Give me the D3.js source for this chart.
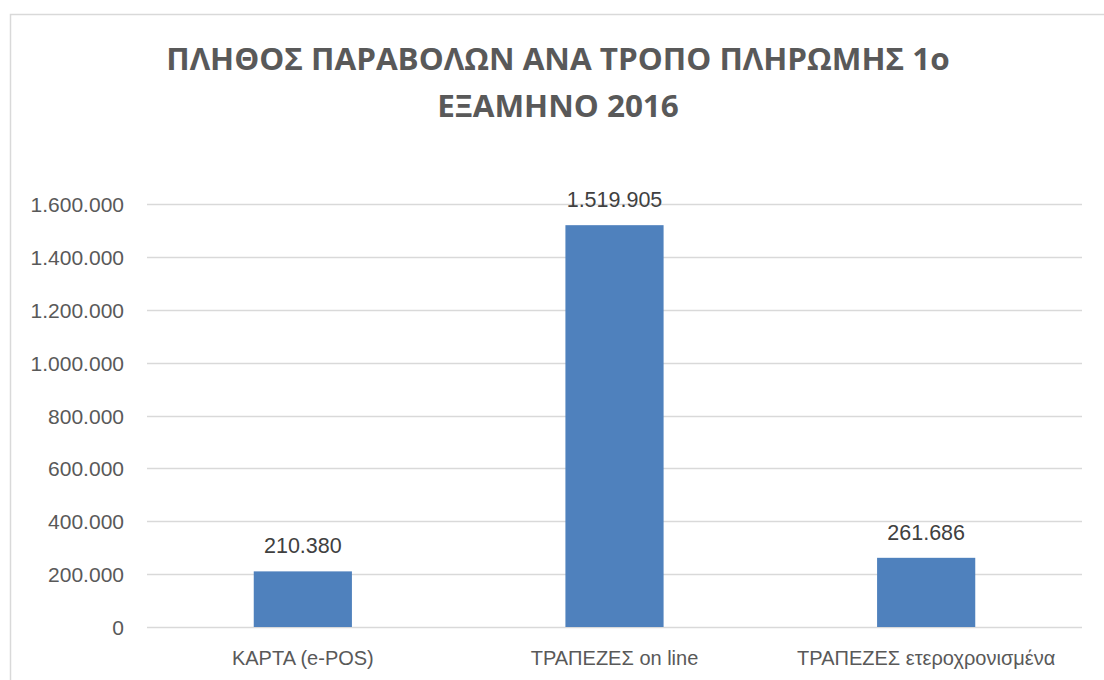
<!DOCTYPE html>
<html><head><meta charset="utf-8">
<script src="https://cdn.jsdelivr.net/npm/d3@7"></script>
<style>body{margin:0;background:#fff}svg{display:block}</style>
</head><body>
<svg id="c" width="1104" height="680"></svg>
<script>
const categories = ["ΚΑΡΤΑ (e-POS)", "ΤΡΑΠΕΖΕΣ on line", "ΤΡΑΠΕΖΕΣ ετεροχρονισμένα"];
const values = [210380, 1519905, 261686];
const valueLabels = ["210.380", "1.519.905", "261.686"];
const tickValues = [0, 200000, 400000, 600000, 800000, 1000000, 1200000, 1400000, 1600000];
const tickLabels = ["0", "200.000", "400.000", "600.000", "800.000", "1.000.000", "1.200.000", "1.400.000", "1.600.000"];
const titleLines = ["ΠΛΗΘΟΣ ΠΑΡΑΒΟΛΩΝ ΑΝΑ ΤΡΟΠΟ ΠΛΗΡΩΜΗΣ 1ο", "ΕΞΑΜΗΝΟ 2016"];

const svg = d3.select("#c");
const font = "'Liberation Sans', Arial, sans-serif";
const grey = "#595959";

svg.append("rect").attr("x",10.5).attr("y",14.5).attr("width",1200).attr("height",800)
  .attr("fill","none").attr("stroke","#d9d9d9").attr("stroke-width",1.5);

const x = d3.scaleBand().domain(categories).range([147,1082]).paddingInner(0.685).paddingOuter(0.3425);
const y = d3.scaleLinear().domain([0,1600000]).range([627,204]);

const grid = svg.append("g");
grid.selectAll("line").data(tickValues).join("line")
  .attr("x1",147).attr("x2",1082)
  .attr("y1",d=>Math.round(y(d))+0.5).attr("y2",d=>Math.round(y(d))+0.5)
  .attr("stroke","#d9d9d9").attr("stroke-width",1.5);

const yAxis = d3.axisLeft(y).tickValues(tickValues).tickSize(0).tickPadding(0)
  .tickFormat((d,i)=>tickLabels[i]);
const ya = svg.append("g").attr("transform","translate(124,0)").call(yAxis);
ya.select(".domain").remove();
ya.selectAll("text").attr("font-family",font).attr("font-size",21).attr("fill",grey).attr("dy","0.36em");

svg.append("g").selectAll("rect").data(values).join("rect")
  .attr("x",(d,i)=>x(categories[i])).attr("width",x.bandwidth())
  .attr("y",d=>y(d)).attr("height",d=>y(0)-y(d)).attr("fill","#4f81bd");

svg.append("g").selectAll("text").data(values).join("text")
  .attr("x",(d,i)=>x(categories[i])+x.bandwidth()/2).attr("y",d=>y(d)-18)
  .attr("text-anchor","middle").attr("font-family",font).attr("font-size",21.5).attr("fill","#404040")
  .text((d,i)=>valueLabels[i]);

const xAxis = d3.axisBottom(x).tickSize(0).tickPadding(0);
const xa = svg.append("g").attr("transform","translate(0,627)").call(xAxis);
xa.select(".domain").remove();
xa.selectAll("text").attr("font-family",font).attr("font-size",20).attr("fill",grey).attr("dy","0").attr("y",38);

const tg = svg.append("g");
const tt = tg.selectAll("text").data(titleLines).join("text")
  .attr("x",0).attr("y",(d,i)=>70+i*47.5).attr("text-anchor","middle")
  .attr("font-family","'Open Sans', 'Noto Sans', sans-serif").attr("font-weight","bold").attr("font-size",31)
  .attr("fill",grey).text(d=>d);
const w = tt.nodes()[0].getComputedTextLength();
const k = 784 / w;
tg.attr("transform",`translate(558,0) scale(${k},1)`);
</script>
</body></html>
